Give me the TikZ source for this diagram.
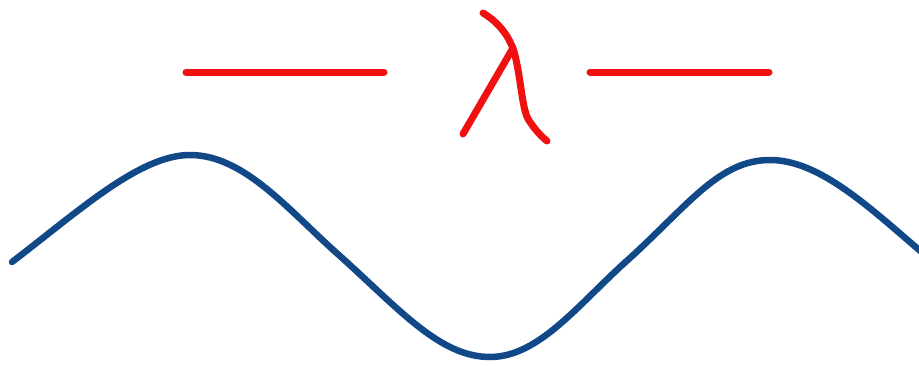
\documentclass[tikz,border=0pt]{standalone}
\definecolor{wave}{RGB}{16,72,136}
\definecolor{lam}{RGB}{240,16,16}
\tikzset{wavepen/.style={draw=wave,line width=6.5pt,line cap=round,line join=round},
lampen/.style={draw=lam,line width=7pt,line cap=round,line join=round}}
\begin{document}
\begin{tikzpicture}[x=1pt,y=-1pt]
\useasboundingbox[fill=white] (0,0) rectangle (919,365);
\coordinate (w0) at (12,262);
\coordinate (w1) at (190,155);
\coordinate (w2) at (490,357);
\coordinate (w3) at (770,160);
\coordinate (w4) at (925,255);
\draw[wavepen] (w0) .. controls (80,210) and (140,155) .. (w1)
  .. controls (245,155) and (290,212) .. (340,256)
  .. controls (400,310) and (440,357) .. (w2)
  .. controls (540,357) and (580,302) .. (630,258)
  .. controls (690,203) and (720,160) .. (w3)
  .. controls (820,160) and (870,208) .. (w4);
\coordinate (l1a) at (186,72); \coordinate (l1b) at (384,72);
\coordinate (l2a) at (590,72); \coordinate (l2b) at (769,72);
\draw[lampen] (l1a) -- (l1b);
\draw[lampen] (l2a) -- (l2b);
\coordinate (a0) at (483,13); \coordinate (a1) at (513,48);
\coordinate (a2) at (547,141); \coordinate (b1) at (463,134);
\draw[lampen] (a0) .. controls (498,22) and (510,36) .. (515,55)
  .. controls (522,85) and (522,112) .. (530,122)
  .. controls (537,132) and (542,137) .. (a2);
\draw[lampen] (a1) -- (b1);
\end{tikzpicture}
\end{document}
